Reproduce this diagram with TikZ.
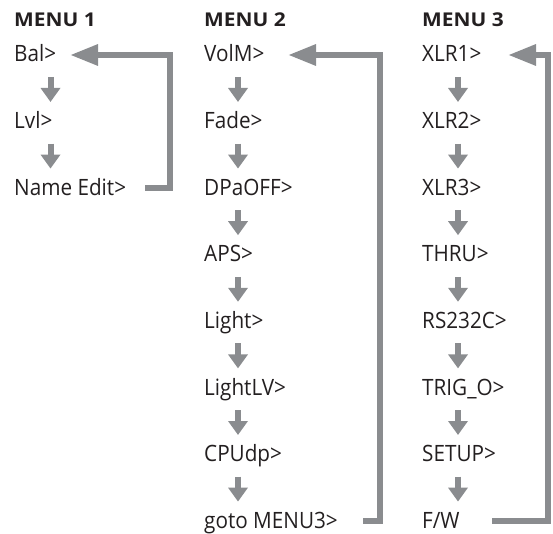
\documentclass[tikz,border=0pt]{standalone}
\usepackage{fontspec}
\setmainfont{Open Sans}
\newfontfamily\itemfont{Open Sans}[FakeStretch=0.92]
\newfontfamily\titlefont{Open Sans}[FakeStretch=1.1]
\usetikzlibrary{arrows.meta,calc}
\definecolor{arrgray}{RGB}{138,140,143}
\definecolor{txt}{RGB}{35,31,32}
\begin{document}
\begin{tikzpicture}[x=1pt,y=-1pt,
  item/.style={anchor=base west, inner sep=0pt, font=\itemfont\fontsize{22.5}{26}\selectfont, text=txt},
  ttl/.style={anchor=base west, inner sep=0pt, font=\titlefont\fontsize{19}{22}\selectfont\bfseries, text=txt},
  downarr/.style={draw=arrgray, line width=6pt, -{Triangle[width=19pt,length=14pt]}},
  retarr/.style={draw=arrgray, line width=6pt, line join=miter, -{Triangle[width=20pt,length=28pt]}}]
\useasboundingbox (0,0) rectangle (553,534);
% titles
\node[ttl] (t1) at (14,27) {MENU 1};
\node[ttl] (t2) at (204,27) {MENU 2};
\node[ttl] (t3) at (422,27) {MENU 3};
% menu items
\foreach \t [count=\i from 0] in {Bal>,Lvl>,Name Edit>}
  \node[item] (m1-\i) at (14,62+66.6*\i) {\t};
\foreach \t [count=\i from 0] in {VolM>,Fade>,DPaOFF>,APS>,Light>,LightLV>,CPUdp>,goto MENU3>}
  \node[item] (m2-\i) at (204,62+66.6*\i) {\t};
\foreach \t [count=\i from 0] in {XLR1>,XLR2>,XLR3>,THRU>,RS232C>,TRIG\_O>,SETUP>,F/W}
  \node[item] (m3-\i) at (422,62+66.6*\i) {\t};
% down arrows
\foreach \i in {0,1}{
  \pgfmathtruncatemacro\j{\i+1}
  \draw[downarr] ([shift={(36.5,15)}]m1-\i.base west) -- ([shift={(36.5,-26.6)}]m1-\j.base west);}
\foreach \i in {0,...,6}{
  \pgfmathtruncatemacro\j{\i+1}
  \draw[downarr] ([shift={(34,15)}]m2-\i.base west) -- ([shift={(34,-26.6)}]m2-\j.base west);
  \draw[downarr] ([shift={(36,15)}]m3-\i.base west) -- ([shift={(36,-26.6)}]m3-\j.base west);}
% return arrows
\coordinate (r1a) at (145,188.4);
\coordinate (r1b) at (70,55);
\draw[retarr] (r1a) -- ++(25,0) |- (r1b);
\coordinate (r2a) at (363,521.2);
\coordinate (r2b) at (288,55);
\draw[retarr] (r2a) -- ++(17,0) |- (r2b);
\coordinate (r3a) at (492,521.2);
\coordinate (r3b) at (508,55);
\draw[retarr] (r3a) -- ++(56,0) |- (r3b);
\end{tikzpicture}
\end{document}
